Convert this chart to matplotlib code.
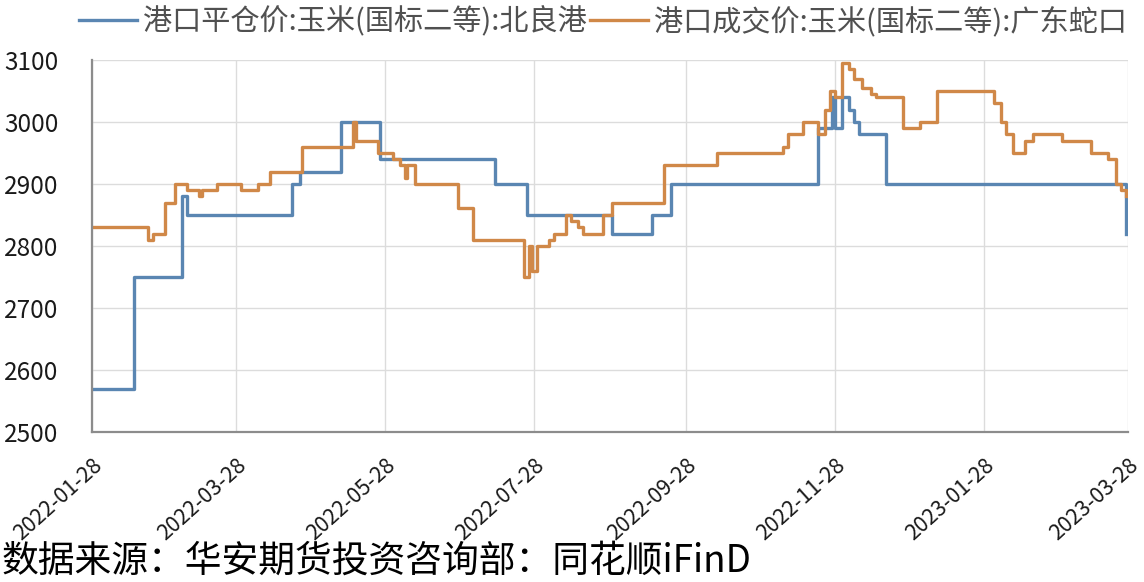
import pandas as pd
import matplotlib.pyplot as plt
import matplotlib.dates as mdates

plt.rcParams['font.family'] = ['Noto Sans CJK SC', 'DejaVu Sans']

# change points of the two step series (date, price)
bl_dates = ['2022-01-28', '2022-02-14', '2022-03-06', '2022-03-08', '2022-04-20',
            '2022-04-23', '2022-05-10', '2022-05-26', '2022-07-12', '2022-07-25',
            '2022-08-29', '2022-09-14', '2022-09-22', '2022-11-21', '2022-11-27',
            '2022-11-28', '2022-12-01', '2022-12-04', '2022-12-06', '2022-12-08',
            '2022-12-19', '2023-03-24', '2023-03-27']
bl_values = [2570, 2750, 2880, 2850, 2900,
             2920, 3000, 2940, 2900, 2850,
             2820, 2850, 2900, 2990, 3040,
             2990, 3040, 3020, 3000, 2980,
             2900, 2900, 2820]

gd_dates = ['2022-01-28', '2022-02-20', '2022-02-22', '2022-02-27', '2022-03-03',
            '2022-03-08', '2022-03-13', '2022-03-14', '2022-03-20', '2022-03-30',
            '2022-04-06', '2022-04-11', '2022-04-24', '2022-05-15', '2022-05-16',
            '2022-05-25', '2022-05-31', '2022-06-03', '2022-06-05', '2022-06-06',
            '2022-06-09', '2022-06-27', '2022-07-03', '2022-07-24', '2022-07-26',
            '2022-07-27', '2022-07-29', '2022-08-03', '2022-08-05', '2022-08-10',
            '2022-08-12', '2022-08-15', '2022-08-17', '2022-08-25', '2022-08-29',
            '2022-09-19', '2022-10-11', '2022-11-07', '2022-11-09', '2022-11-15',
            '2022-11-21', '2022-11-24', '2022-11-26', '2022-11-28', '2022-12-01',
            '2022-12-04', '2022-12-06', '2022-12-09', '2022-12-13', '2022-12-15',
            '2022-12-26', '2023-01-02', '2023-01-09', '2023-02-01', '2023-02-04',
            '2023-02-06', '2023-02-09', '2023-02-14', '2023-02-17', '2023-03-01',
            '2023-03-13', '2023-03-20', '2023-03-23', '2023-03-25', '2023-03-27']
gd_values = [2830, 2810, 2820, 2870, 2900,
             2890, 2880, 2890, 2900, 2890,
             2900, 2920, 2960, 3000, 2970,
             2950, 2940, 2930, 2910, 2930,
             2900, 2862, 2810, 2750, 2800,
             2760, 2800, 2810, 2820, 2850,
             2840, 2830, 2820, 2850, 2870,
             2930, 2950, 2960, 2980, 3000,
             2980, 3020, 3050, 3040, 3095,
             3085, 3070, 3055, 3045, 3040,
             2990, 3000, 3050, 3030, 3000,
             2980, 2950, 2970, 2980, 2970,
             2950, 2940, 2900, 2890, 2880]

tick_dates = ['2022-01-28', '2022-03-28', '2022-05-28', '2022-07-28',
              '2022-09-28', '2022-11-28', '2023-01-28', '2023-03-28']

label_bl = '港口平仓价:玉米(国标二等):北良港'
label_gd = '港口成交价:玉米(国标二等):广东蛇口'
source_text = '数据来源：华安期货投资咨询部：同花顺iFinD'


def main():
    fig = plt.figure(figsize=(11.44, 5.82), dpi=100)
    ax = fig.add_axes([0.0804, 0.2577, 0.9056, 0.6392])

    ax.plot(pd.to_datetime(bl_dates), bl_values, drawstyle='steps-post',
            color='#5a86b2', lw=2.4, label=label_bl)
    ax.plot(pd.to_datetime(gd_dates), gd_values, drawstyle='steps-post',
            color='#d08848', lw=2.4, label=label_gd)

    ticks = pd.to_datetime(tick_dates)
    ax.set_xlim(ticks[0], ticks[-1])
    ax.set_xticks(ticks)
    ax.xaxis.set_major_formatter(mdates.DateFormatter('%Y-%m-%d'))
    ax.set_ylim(2500, 3100)
    ax.set_yticks(range(2500, 3101, 100))

    ax.grid(True, color='#dcdcdc', lw=1)
    ax.set_axisbelow(True)
    for side in ['top', 'right']:
        ax.spines[side].set_visible(False)
    for side in ['left', 'bottom']:
        ax.spines[side].set_color('#8c8c8c')
        ax.spines[side].set_linewidth(1.6)

    ax.tick_params(axis='y', length=0, pad=24, labelsize=17.5, labelcolor='#1a1a1a')
    ax.tick_params(axis='x', length=0, pad=16, labelsize=15.5, labelcolor='#1a1a1a')
    for lbl in ax.get_xticklabels():
        lbl.set_rotation(42)
        lbl.set_ha('right')
        lbl.set_va('top')
        lbl.set_rotation_mode('anchor')

    fig.legend(loc='center', bbox_to_anchor=(0.527, 0.962), ncol=2, frameon=False,
               fontsize=21, labelcolor='#505050', handlelength=2.0,
               handletextpad=0.2, columnspacing=0.1, borderaxespad=0)

    fig.text(0.001, 0.002, source_text, fontsize=26.5, color='black', va='bottom')

    fig.savefig('out.png', dpi=100)


if __name__ == "__main__":
    main()
